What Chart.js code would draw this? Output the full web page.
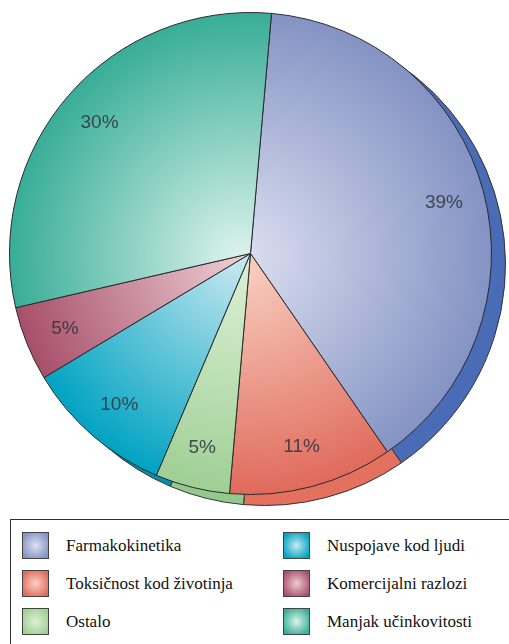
<!DOCTYPE html>
<html>
<head>
<meta charset="utf-8">
<script src="https://cdn.jsdelivr.net/npm/chart.js@4.4.1/dist/chart.umd.min.js"></script>
<style>
  html, body { margin: 0; padding: 0; background: #fff; overflow: hidden; }
  #wrap { position: absolute; left: 0; top: 0; width: 509px; height: 510px; }
  #legend {
    position: absolute; left: 10px; top: 519px; width: 530px; height: 150px;
    border: 1px solid #333; box-sizing: border-box;
    font-family: "Liberation Serif", "DejaVu Serif", serif; font-size: 17px; color: #111;
  }
  .item { position: absolute; display: flex; align-items: center; height: 27px; }
  .sw { width: 25px; height: 25px; border: 1px solid #444; margin-right: 17px; }
</style>
</head>
<body>
<div id="wrap"><canvas id="pie"></canvas></div>
<div id="legend"></div>
<script>
// data
const labels = ['Farmakokinetika', 'Toksičnost kod životinja', 'Ostalo', 'Nuspojave kod ljudi', 'Komercijalni razlozi', 'Manjak učinkovitosti'];
const shares = [39, 11, 5, 10, 5, 30];

// styles
const edgeColors  = ['#8493c4', '#e06a5c', '#9fcf94', '#00a3c2', '#a84f6a', '#38ad97'];
const lightColors = ['#dde0f1', '#f9d3c3', '#ddf1d7', '#c8e8f1', '#ecccd2', '#ddf3ed'];
const rimColors   = ['#4a6cb6', '#e4705f', '#93c98d', '#0090b0', '#8e4058', '#2c9a86'];
const rimShift = { x: 14, y: 11 };

function sliceFill(ctx) {
  const chart = ctx.chart;
  const i = ctx.dataIndex;
  const ca = chart.chartArea;
  if (!ca) return edgeColors[i];
  const cx = (ca.left + ca.right) / 2, cy = (ca.top + ca.bottom) / 2;
  const r = Math.min(ca.right - ca.left, ca.bottom - ca.top) / 2;
  const g = chart.ctx.createRadialGradient(cx - 12, cy + 4, 0, cx, cy, r);
  g.addColorStop(0, lightColors[i]);
  g.addColorStop(1, edgeColors[i]);
  return g;
}

// extruded rim behind the pie
const rimPlugin = {
  id: 'rim',
  beforeDatasetsDraw(chart) {
    const c = chart.ctx;
    chart.getDatasetMeta(0).data.forEach((arc, i) => {
      const x = arc.x + rimShift.x, y = arc.y + rimShift.y;
      c.save();
      c.beginPath();
      c.moveTo(x, y);
      c.arc(x, y, arc.outerRadius, arc.startAngle, arc.endAngle);
      c.closePath();
      c.fillStyle = rimColors[i];
      c.fill();
      c.lineWidth = 1;
      c.strokeStyle = '#333';
      c.stroke();
      c.restore();
    });
  }
};

// percentage labels inside slices
const pctPlugin = {
  id: 'pct',
  afterDatasetsDraw(chart) {
    const c = chart.ctx;
    const ds = chart.data.datasets[0].data;
    const total = ds.reduce((a, b) => a + b, 0);
    c.save();
    c.font = '19px "Liberation Sans", Arial, sans-serif';
    c.fillStyle = 'rgba(45,50,60,0.85)';
    c.textAlign = 'center';
    c.textBaseline = 'middle';
    chart.getDatasetMeta(0).data.forEach((arc, i) => {
      const a = (arc.startAngle + arc.endAngle) / 2;
      const r = arc.outerRadius * 0.83;
      c.fillText(Math.round(ds[i] / total * 100) + '%', arc.x + Math.cos(a) * r, arc.y + Math.sin(a) * r);
    });
    c.restore();
  }
};

const chart = new Chart(document.getElementById('pie'), {
  type: 'pie',
  data: {
    labels: labels,
    datasets: [{
      data: shares,
      backgroundColor: sliceFill,
      borderColor: '#2a2a2a',
      borderWidth: 1
    }]
  },
  options: {
    responsive: true,
    maintainAspectRatio: false,
    animation: false,
    rotation: 5,
    layout: { padding: { left: 9, right: 17, top: 12, bottom: 15 } },
    plugins: {
      legend: { display: false },
      tooltip: { enabled: false }
    }
  },
  plugins: [rimPlugin, pctPlugin]
});

// legend box, two columns filled top to bottom
const legend = document.getElementById('legend');
labels.forEach((name, i) => {
  const col = Math.floor(i / 3), row = i % 3;
  const item = document.createElement('div');
  item.className = 'item';
  item.style.left = (11 + col * 261) + 'px';
  item.style.top = (12 + row * 38) + 'px';
  const sw = document.createElement('div');
  sw.className = 'sw';
  sw.style.background = 'radial-gradient(circle, ' + lightColors[i] + ' 0%, ' + edgeColors[i] + ' 85%)';
  const txt = document.createElement('span');
  txt.textContent = name;
  item.appendChild(sw);
  item.appendChild(txt);
  legend.appendChild(item);
});
</script>
</body>
</html>
